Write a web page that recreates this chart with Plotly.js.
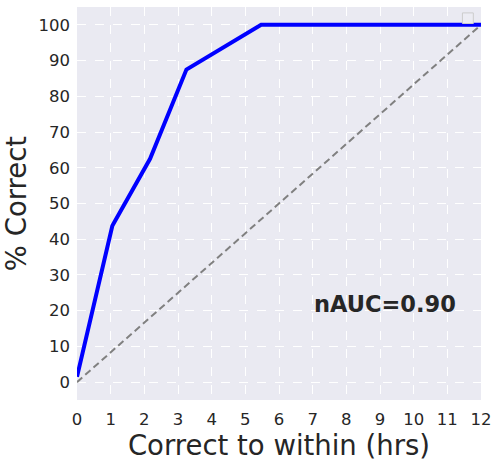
<!DOCTYPE html>
<html>
<head>
<meta charset="utf-8">
<script src="https://cdn.plot.ly/plotly-3.0.1.min.js"></script>
<style>html,body{margin:0;padding:0;background:#fff;}#chart{width:498px;height:462px;}</style>
</head>
<body>
<div id="chart"></div>
<script>
const hours = [0, 1.05, 2.17, 3.25, 5.47, 12];
const pctCorrect = [1.5, 43.75, 62.5, 87.5, 100, 100];
const diagX = [0, 12];
const diagY = [0, 100];
const xTicks = [0,1,2,3,4,5,6,7,8,9,10,11,12];
const yTicks = [0,10,20,30,40,50,60,70,80,90,100];
const aucLabel = 'nAUC=0.90';

const font = 'DejaVu Sans, sans-serif';
const dark = '#262626';

const traces = [
  {x: diagX, y: diagY, mode: 'lines', line: {color: 'gray', width: 2, dash: '7px,4px'}, showlegend: false, hoverinfo: 'skip'},
  {x: hours, y: pctCorrect, mode: 'lines', line: {color: 'blue', width: 4}, showlegend: false}
];

const layout = {
  width: 498, height: 462,
  margin: {l: 77, r: 17, t: 7, b: 62},
  paper_bgcolor: '#ffffff',
  plot_bgcolor: '#EAEAF2',
  font: {family: font, color: dark},
  xaxis: {
    range: [0, 12], tickvals: xTicks, ticktext: xTicks.map(String),
    showgrid: true, gridcolor: '#ffffff', gridwidth: 1, griddash: 'dash',
    zeroline: false, showline: false, ticks: '', ticklabelstandoff: 7,
    tickfont: {size: 16.5, color: dark, family: font},
    title: {text: 'Correct to within (hrs)', font: {size: 27.5, color: dark, family: font}, standoff: 0}
  },
  yaxis: {
    range: [-5, 105], tickvals: yTicks, ticktext: yTicks.map(String),
    showgrid: true, gridcolor: '#ffffff', gridwidth: 1, griddash: 'dash',
    zeroline: false, showline: false, ticks: '', ticklabelstandoff: 6,
    tickfont: {size: 16.5, color: dark, family: font},
    title: {text: '% Correct', font: {size: 27.5, color: dark, family: font}, standoff: 8}
  },
  annotations: [{
    x: 9.14, y: 22, xref: 'x', yref: 'y', text: '<b>' + aucLabel + '</b>',
    showarrow: false, font: {size: 22.5, color: dark, family: font}
  }],
  shapes: [{
    type: 'rect', xref: 'paper', yref: 'paper',
    x0: 0.954, x1: 0.981, y0: 0.958, y1: 0.985,
    line: {color: '#cccccc', width: 1}, fillcolor: '#ececf3'
  }]
};

Plotly.newPlot('chart', traces, layout, {displayModeBar: false, staticPlot: true});
</script>
</body>
</html>
